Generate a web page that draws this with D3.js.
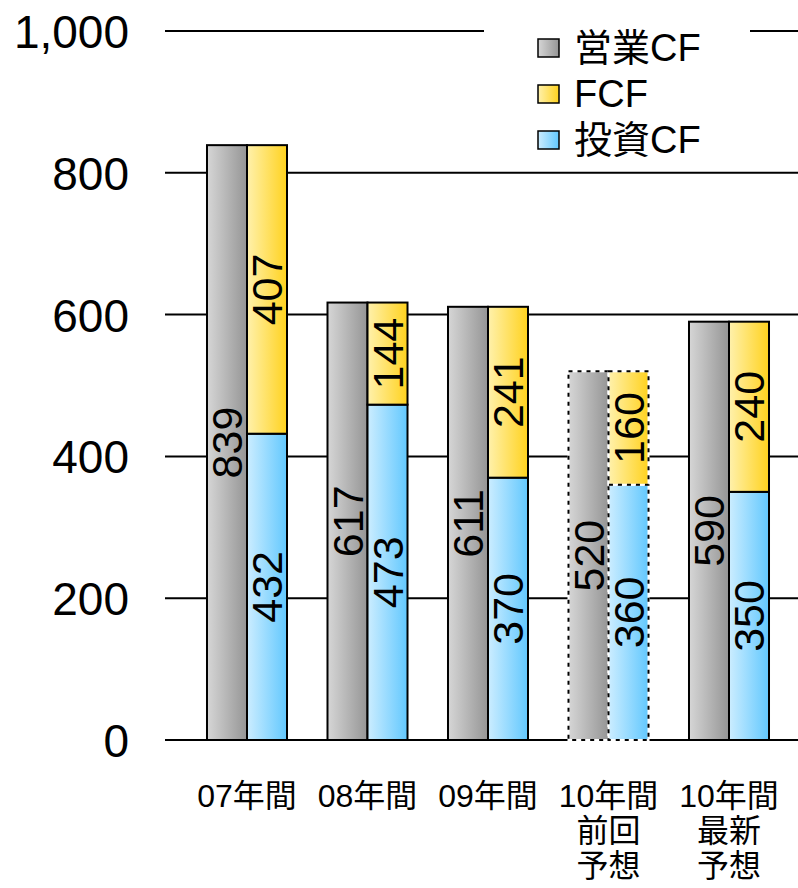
<!DOCTYPE html>
<html><head><meta charset="utf-8">
<script src="https://cdn.jsdelivr.net/npm/d3@7"></script>
<style>
html,body{margin:0;padding:0;background:#fff;}
svg{display:block;font-family:"Liberation Sans",Arial,"Noto Sans CJK JP",sans-serif;}
</style></head>
<body>
<svg id="chart" width="798" height="888"></svg>
<script>
const categories = [["07年間"],["08年間"],["09年間"],["10年間","前回","予想"],["10年間","最新","予想"]];
const forecastFlags = [false,false,false,true,false];
const operatingCF = [839,617,611,520,590];
const investingCF = [432,473,370,360,350];
const freeCF = [407,144,241,160,240];
const yTicks = [0,200,400,600,800,1000];
const seriesNames = ["営業CF","FCF","投資CF"];

const svg = d3.select("#chart");
const W = 798, H = 888;
const y = d3.scaleLinear().domain([0,1000]).range([740,31]);
const x = d3.scaleBand().domain(d3.range(categories.length)).range([186.75,789.25]).paddingInner(0.336).paddingOuter(0.168);
const sub = d3.scaleBand().domain([0,1]).range([0,x.bandwidth()]);

const defs = svg.append("defs");
function grad(id, c1, c2){
  const g = defs.append("linearGradient").attr("id",id).attr("x1","0%").attr("x2","100%").attr("y1","0%").attr("y2","0%");
  g.append("stop").attr("offset","0%").attr("stop-color",c1);
  g.append("stop").attr("offset","100%").attr("stop-color",c2);
}
grad("gGrey","#d6d6d6","#959595");
grad("gYellow","#fff1ac","#ffd21e");
grad("gBlue","#ccedff","#62c8fe");

// gridlines
svg.append("g").selectAll("line").data(yTicks).join("line")
  .attr("x1",165).attr("x2",W).attr("y1",d=>y(d)).attr("y2",d=>y(d))
  .attr("stroke","#000").attr("stroke-width",2);

// y axis labels
const yAxis = d3.axisLeft(y).tickValues(yTicks).tickFormat(d3.format(",")).tickSize(0).tickPadding(0);
const ya = svg.append("g").attr("transform","translate(129,0)").call(yAxis);
ya.select(".domain").remove();
ya.selectAll("text").attr("font-size",46).attr("fill","#000")
  .attr("font-family","'Liberation Sans',Arial,sans-serif").attr("dy","0.36em");

// legend background + legend
const lg = svg.append("g");
lg.append("rect").attr("x",484).attr("y",12).attr("width",266).attr("height",150).attr("fill","#fff");
const legFills = ["url(#gGrey)","url(#gYellow)","url(#gBlue)"];
seriesNames.forEach((n,i)=>{
  const cy = 48 + i*46;
  lg.append("rect").attr("x",538).attr("y",cy-9).attr("width",21).attr("height",18)
    .attr("fill",legFills[i]).attr("stroke","#000").attr("stroke-width",1.5);
  lg.append("text").attr("x",574).attr("y",cy+13).attr("font-size",38).text(n);
});

// bars
const bars = svg.append("g");
categories.forEach((c,i)=>{
  const x0 = x(i);
  const bw = sub.bandwidth();
  const dashed = forecastFlags[i];
  const segs = [
    {x:x0+sub(0), y0:0, y1:operatingCF[i], fill:"url(#gGrey)", label:operatingCF[i]},
    {x:x0+sub(1), y0:0, y1:investingCF[i], fill:"url(#gBlue)", label:investingCF[i]},
    {x:x0+sub(1), y0:investingCF[i], y1:investingCF[i]+freeCF[i], fill:"url(#gYellow)", label:freeCF[i]}
  ];
  segs.forEach(s=>{
    const r = bars.append("rect").attr("x",s.x).attr("y",y(s.y1)).attr("width",bw).attr("height",y(s.y0)-y(s.y1))
      .attr("fill",s.fill);
    if(dashed){
      bars.append("rect").attr("x",s.x).attr("y",y(s.y1)).attr("width",bw).attr("height",y(s.y0)-y(s.y1))
        .attr("fill","none").attr("stroke","#fff").attr("stroke-width",2);
      bars.append("rect").attr("x",s.x).attr("y",y(s.y1)).attr("width",bw).attr("height",y(s.y0)-y(s.y1))
        .attr("fill","none").attr("stroke","#000").attr("stroke-width",2).attr("stroke-dasharray","4,5");
    } else {
      r.attr("stroke","#000").attr("stroke-width",2);
    }
    const cx = s.x + bw/2, cy = (y(s.y0)+y(s.y1))/2;
    bars.append("text").attr("transform",`translate(${cx},${cy}) rotate(-90)`)
      .attr("text-anchor","middle").attr("dy","0.36em").attr("font-size",43)
      .attr("font-family","'Liberation Sans',Arial,sans-serif").text(s.label);
  });
});

// category labels
const cl = svg.append("g");
categories.forEach((lines,i)=>{
  const t = cl.append("text").attr("x",x(i)+x.bandwidth()/2).attr("y",807).attr("text-anchor","middle").attr("font-size",32);
  lines.forEach((ln,j)=>{
    t.append("tspan").attr("x",x(i)+x.bandwidth()/2).attr("dy",j===0?0:35).text(ln);
  });
});
</script>
</body></html>
